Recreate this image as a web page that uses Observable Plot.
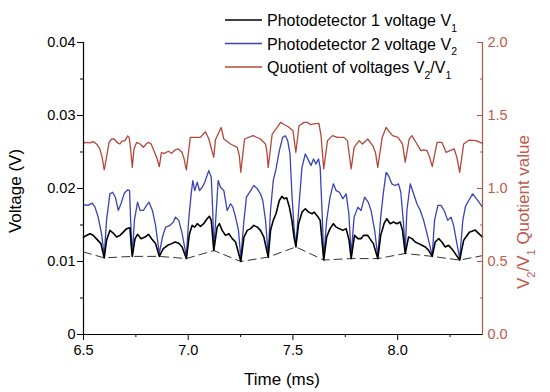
<!DOCTYPE html>
<html><head><meta charset="utf-8">
<script src="https://cdn.jsdelivr.net/npm/d3@7"></script>
<script src="https://cdn.jsdelivr.net/npm/@observablehq/plot@0.6"></script>
<style>
body{margin:0;background:#fff;}
#chart{position:relative;width:550px;height:392px;}
</style>
</head><body><div id="chart"></div>
<script>
// ---- data: [time (ms), value] ----
const v1Points = [[6.500,0.0133],[6.507,0.01345],[6.531,0.0138],[6.546,0.0136],[6.562,0.0131],[6.583,0.01245],[6.599,0.0105],[6.610,0.0129],[6.626,0.01426],[6.642,0.0139],[6.658,0.01335],[6.674,0.01358],[6.690,0.01403],[6.706,0.0145],[6.722,0.01463],[6.727,0.01245],[6.733,0.0107],[6.746,0.01313],[6.758,0.01372],[6.775,0.01313],[6.794,0.01335],[6.810,0.01372],[6.825,0.01313],[6.844,0.01245],[6.862,0.0107],[6.881,0.01177],[6.902,0.01222],[6.921,0.01245],[6.937,0.01267],[6.955,0.0125],[6.971,0.01199],[6.991,0.0104],[7.006,0.01381],[7.019,0.01495],[7.031,0.01471],[7.043,0.01518],[7.058,0.01481],[7.074,0.01518],[7.090,0.01586],[7.101,0.01618],[7.110,0.01563],[7.122,0.0115],[7.138,0.01471],[7.149,0.01518],[7.162,0.01426],[7.178,0.01358],[7.194,0.01381],[7.210,0.01313],[7.226,0.01267],[7.251,0.0100],[7.266,0.01335],[7.282,0.01426],[7.298,0.0145],[7.313,0.01495],[7.330,0.01471],[7.345,0.01426],[7.361,0.01335],[7.382,0.0106],[7.393,0.01426],[7.406,0.01563],[7.419,0.01654],[7.435,0.01836],[7.447,0.01891],[7.459,0.01859],[7.470,0.01873],[7.483,0.01745],[7.495,0.01563],[7.505,0.01335],[7.514,0.0120],[7.527,0.01518],[7.543,0.01676],[7.559,0.01723],[7.575,0.01676],[7.591,0.01654],[7.602,0.01676],[7.618,0.01618],[7.630,0.01563],[7.647,0.0102],[7.661,0.01335],[7.677,0.0145],[7.693,0.01518],[7.706,0.01471],[7.722,0.0145],[7.738,0.01426],[7.754,0.0145],[7.768,0.0129],[7.778,0.0104],[7.794,0.01358],[7.810,0.01313],[7.825,0.01313],[7.837,0.01358],[7.857,0.01358],[7.873,0.0129],[7.884,0.01245],[7.905,0.0104],[7.919,0.01358],[7.935,0.01518],[7.948,0.01586],[7.964,0.01518],[7.980,0.0154],[7.996,0.01518],[8.012,0.0154],[8.023,0.01426],[8.036,0.0111],[8.052,0.01335],[8.068,0.01313],[8.084,0.01267],[8.100,0.01245],[8.116,0.01222],[8.132,0.01199],[8.148,0.01153],[8.165,0.0107],[8.179,0.01267],[8.196,0.01313],[8.211,0.01267],[8.227,0.01199],[8.243,0.01222],[8.264,0.01153],[8.296,0.0102],[8.315,0.0129],[8.342,0.0140],[8.370,0.0143],[8.405,0.01335]];

const v2Points = [[6.500,0.0177],[6.507,0.01777],[6.521,0.01768],[6.542,0.0180],[6.555,0.01745],[6.570,0.01608],[6.586,0.01381],[6.599,0.0108],[6.610,0.01563],[6.626,0.01927],[6.639,0.01949],[6.653,0.01873],[6.666,0.01699],[6.679,0.01791],[6.695,0.01936],[6.711,0.01982],[6.720,0.01972],[6.725,0.01563],[6.733,0.0109],[6.743,0.01563],[6.758,0.01813],[6.770,0.01699],[6.786,0.01699],[6.801,0.01768],[6.813,0.01813],[6.829,0.01699],[6.844,0.01495],[6.862,0.0111],[6.877,0.01335],[6.892,0.01471],[6.913,0.01495],[6.929,0.0154],[6.939,0.01608],[6.955,0.01563],[6.971,0.01381],[6.991,0.0107],[7.002,0.01563],[7.014,0.01927],[7.022,0.02109],[7.031,0.01972],[7.043,0.02086],[7.054,0.01972],[7.067,0.02017],[7.079,0.02086],[7.098,0.02245],[7.110,0.02154],[7.117,0.01699],[7.122,0.0117],[7.130,0.01518],[7.143,0.02109],[7.154,0.02017],[7.170,0.01972],[7.186,0.01699],[7.202,0.01791],[7.213,0.01745],[7.226,0.01608],[7.240,0.01426],[7.251,0.0104],[7.266,0.01563],[7.278,0.01881],[7.298,0.01972],[7.313,0.02041],[7.330,0.01996],[7.345,0.01927],[7.356,0.01836],[7.369,0.01563],[7.382,0.0109],[7.393,0.01699],[7.406,0.02109],[7.418,0.0225],[7.435,0.02518],[7.451,0.0270],[7.464,0.02723],[7.475,0.02655],[7.486,0.02473],[7.495,0.01927],[7.505,0.01471],[7.514,0.0121],[7.527,0.01699],[7.543,0.0229],[7.559,0.02473],[7.575,0.02382],[7.586,0.02314],[7.598,0.02405],[7.610,0.02337],[7.622,0.02405],[7.630,0.0229],[7.640,0.01608],[7.647,0.0105],[7.661,0.01563],[7.677,0.01881],[7.693,0.02064],[7.706,0.01972],[7.722,0.01949],[7.738,0.01859],[7.754,0.01927],[7.767,0.01654],[7.778,0.0108],[7.792,0.01608],[7.810,0.01745],[7.825,0.01699],[7.842,0.01881],[7.860,0.0181],[7.873,0.01699],[7.890,0.01426],[7.905,0.0107],[7.919,0.01608],[7.933,0.01972],[7.945,0.02222],[7.956,0.02177],[7.972,0.02064],[7.988,0.02041],[8.004,0.02064],[8.015,0.01949],[8.028,0.01518],[8.036,0.0113],[8.044,0.01699],[8.060,0.02064],[8.076,0.01927],[8.092,0.01791],[8.108,0.01699],[8.124,0.01563],[8.140,0.01381],[8.165,0.0108],[8.176,0.01563],[8.192,0.01768],[8.207,0.01768],[8.222,0.01699],[8.239,0.01563],[8.255,0.01608],[8.267,0.01495],[8.280,0.0129],[8.296,0.0104],[8.311,0.01563],[8.323,0.01745],[8.330,0.01791],[8.358,0.01927],[8.382,0.01836],[8.405,0.01745]];

const quotientPoints = [[6.500,1.309],[6.507,1.316],[6.531,1.312],[6.546,1.321],[6.562,1.305],[6.578,1.271],[6.589,1.214],[6.599,1.128],[6.610,1.214],[6.622,1.316],[6.634,1.339],[6.646,1.339],[6.663,1.312],[6.674,1.305],[6.682,1.323],[6.698,1.328],[6.711,1.360],[6.718,1.350],[6.725,1.271],[6.733,1.145],[6.741,1.271],[6.754,1.316],[6.770,1.305],[6.786,1.282],[6.799,1.305],[6.810,1.316],[6.823,1.305],[6.833,1.271],[6.849,1.214],[6.862,1.150],[6.872,1.246],[6.886,1.241],[6.905,1.255],[6.921,1.241],[6.937,1.264],[6.953,1.271],[6.970,1.248],[6.980,1.205],[6.991,1.128],[7.010,1.350],[7.034,1.350],[7.058,1.350],[7.082,1.389],[7.098,1.341],[7.122,1.214],[7.130,1.334],[7.157,1.418],[7.170,1.339],[7.202,1.305],[7.234,1.282],[7.244,1.225],[7.251,1.111],[7.269,1.339],[7.309,1.362],[7.345,1.339],[7.369,1.305],[7.376,1.246],[7.382,1.145],[7.401,1.373],[7.425,1.418],[7.441,1.453],[7.460,1.437],[7.478,1.423],[7.500,1.396],[7.514,1.248],[7.529,1.430],[7.553,1.453],[7.569,1.453],[7.586,1.437],[7.600,1.442],[7.624,1.446],[7.634,1.362],[7.647,1.134],[7.665,1.328],[7.689,1.362],[7.712,1.350],[7.744,1.350],[7.760,1.328],[7.778,1.134],[7.792,1.282],[7.816,1.328],[7.832,1.305],[7.857,1.339],[7.881,1.294],[7.894,1.246],[7.905,1.145],[7.926,1.350],[7.945,1.418],[7.962,1.384],[7.976,1.362],[8.001,1.350],[8.023,1.305],[8.036,1.180],[8.055,1.339],[8.068,1.362],[8.092,1.305],[8.111,1.259],[8.124,1.264],[8.140,1.259],[8.152,1.218],[8.165,1.150],[8.188,1.316],[8.211,1.316],[8.231,1.248],[8.250,1.259],[8.270,1.271],[8.283,1.212],[8.296,1.111],[8.315,1.305],[8.342,1.332],[8.374,1.328],[8.405,1.309]];

const minimaPoints = [[6.500,0.0113],[6.599,0.0105],[6.733,0.0107],[6.862,0.0107],[6.991,0.0104],[7.122,0.0115],[7.251,0.0100],[7.382,0.0106],[7.514,0.0120],[7.647,0.0102],[7.778,0.0104],[7.905,0.0104],[8.036,0.0111],[8.165,0.0107],[8.296,0.0102],[8.405,0.0108]];

const xMajorTicks = [6.5, 7.0, 7.5, 8.0];
const xMinorTicks = [6.75, 7.25, 7.75, 8.25];
const yMajorTicks = [0, 0.01, 0.02, 0.03, 0.04];
const yMinorTicks = [0.005, 0.015, 0.025, 0.035];
const xDomain = [6.5, 8.405];
const yDomain = [0, 0.04];
const quotientScale = 0.02; // right axis 0–2.0 spans the same height as 0–0.04 V

const legendLabels = [
  [{t: "Photodetector 1 voltage V"}, {t: "1", sub: true}],
  [{t: "Photodetector 2 voltage V"}, {t: "2", sub: true}],
  [{t: "Quotient of voltages V"}, {t: "2", sub: true}, {t: "/V"}, {t: "1", sub: true}]
];
const xTitle = "Time (ms)";
const yTitle = "Voltage (V)";
const y2Title = [{t: "V"}, {t: "2", sub: true}, {t: "/V"}, {t: "1", sub: true}, {t: " Quotient value"}];

// ---- styles ----
const FONT = "'Liberation Sans', Arial, Helvetica, sans-serif";
const C_V1 = "#000000", C_V2 = "#3a43b4", C_Q = "#b3483a";
const C_AXIS2 = "#a85a48", C_AXIS2_TEXT = "#bf5a4d";
const legendColors = [C_V1, C_V2, C_Q];

const X = d => d[0], Y = d => d[1];

const plot = Plot.plot({
  width: 550, height: 392,
  marginLeft: 83, marginRight: 68, marginTop: 42, marginBottom: 58,
  style: {fontFamily: FONT, fontSize: "14px", color: "#000", background: "#fff", overflow: "visible"},
  x: {domain: xDomain},
  y: {domain: yDomain},
  marks: [
    Plot.line(minimaPoints, {x: X, y: Y, stroke: "#333", strokeWidth: 1, strokeDasharray: "8,5"}),
    Plot.line(v2Points, {x: X, y: Y, stroke: C_V2, strokeWidth: 1.3}),
    Plot.line(v1Points, {x: X, y: Y, stroke: C_V1, strokeWidth: 1.6}),
    Plot.line(quotientPoints, {x: X, y: d => d[1] * quotientScale, stroke: C_Q, strokeWidth: 1.3}),
    Plot.axisX({ticks: xMajorTicks, tickSize: 6, tickPadding: 4, tickFormat: d3.format(".1f"), label: null, fontSize: 14.5}),
    Plot.axisX({ticks: xMinorTicks, tickSize: 3, tickFormat: () => "", label: null}),
    Plot.axisY({ticks: yMajorTicks, tickSize: 6, tickPadding: 2, tickFormat: d => d === 0 ? "0" : d.toFixed(2), label: null, fontSize: 14.5}),
    Plot.axisY({ticks: yMinorTicks, tickSize: 3, tickFormat: () => "", label: null}),
    Plot.axisY({anchor: "right", ticks: yMajorTicks, tickSize: -6, tickPadding: 11, tickFormat: d => (d / quotientScale).toFixed(1), label: null, color: C_AXIS2_TEXT, stroke: C_AXIS2, fontSize: 14.5}),
    Plot.axisY({anchor: "right", ticks: yMinorTicks, tickSize: -3, tickFormat: () => "", label: null, stroke: C_AXIS2}),
    Plot.ruleX([xDomain[0]], {stroke: "#000", strokeWidth: 1.2}),
    Plot.ruleY([0], {stroke: "#000", strokeWidth: 1.2}),
    Plot.ruleX([xDomain[1]], {stroke: C_AXIS2, strokeWidth: 1.2})
  ]
});
document.getElementById("chart").appendChild(plot);

const svg = d3.select(plot);
function writeParts(textSel, parts, subSize, shift) {
  let shifted = false;
  parts.forEach(p => {
    const ts = textSel.append("tspan").text(p.t);
    if (p.sub && !shifted) { ts.attr("font-size", subSize).attr("dy", shift); shifted = true; }
    else if (!p.sub && shifted) { ts.attr("dy", -shift); shifted = false; }
    else if (p.sub) ts.attr("font-size", subSize);
  });
}

// legend
const lg = svg.append("g").attr("font-family", FONT).attr("font-size", 16).attr("text-anchor", "start");
legendLabels.forEach((parts, i) => {
  const y = 20 + i * 23.5;
  lg.append("line").attr("x1", 225).attr("x2", 262).attr("y1", y).attr("y2", y)
    .attr("stroke", legendColors[i]).attr("stroke-width", 1.5);
  const t = lg.append("text").attr("x", 267).attr("y", y + 6).attr("fill", "#000").attr("text-anchor", "start");
  writeParts(t, parts, 10.5, 5.5);
});

// axis titles
svg.append("text").attr("x", 282).attr("y", 385).attr("text-anchor", "middle")
  .attr("font-family", FONT).attr("font-size", 17).text(xTitle);
svg.append("text").attr("transform", "translate(21,191) rotate(-90)").attr("text-anchor", "middle")
  .attr("font-family", FONT).attr("font-size", 17).text(yTitle);
const t2 = svg.append("text").attr("transform", "translate(529,212) rotate(-90)").attr("text-anchor", "middle")
  .attr("font-family", FONT).attr("font-size", 17).attr("fill", C_AXIS2_TEXT);
writeParts(t2, y2Title, 11, 6);
</script>
</body></html>
